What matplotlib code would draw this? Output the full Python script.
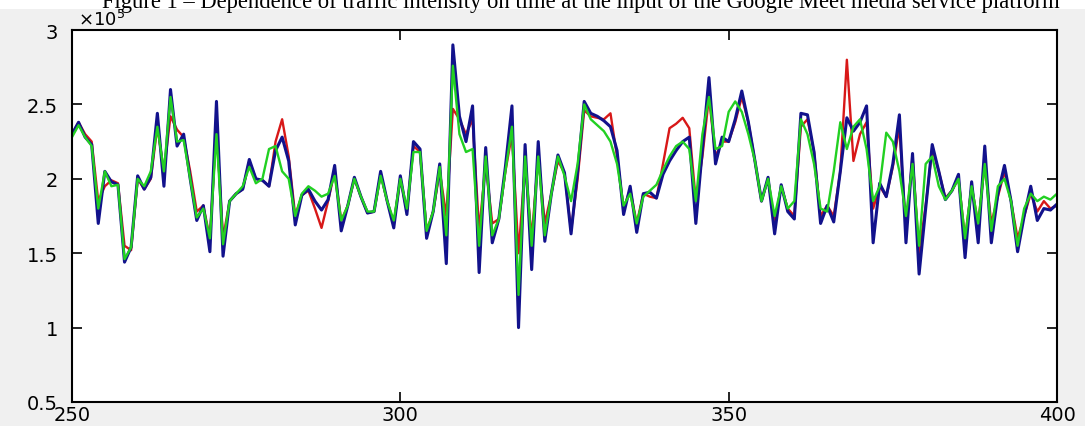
import numpy as np
import matplotlib.pyplot as plt
from matplotlib.patches import Rectangle

# tiempo (muestras) y series de intensidad de tráfico, en unidades de 1e5
t = np.arange(250, 401)

serie_azul = [
    2.30, 2.38, 2.28, 2.23, 1.70, 2.05, 1.98, 1.96, 1.44, 1.54,
    2.02, 1.93, 2.01, 2.44, 1.95, 2.60, 2.22, 2.30, 2.00, 1.72,
    1.82, 1.51, 2.52, 1.48, 1.85, 1.90, 1.93, 2.13, 2.00, 1.99,
    1.95, 2.19, 2.28, 2.12, 1.69, 1.89, 1.93, 1.85, 1.79, 1.86,
    2.09, 1.65, 1.82, 2.01, 1.88, 1.77, 1.78, 2.05, 1.85, 1.67,
    2.02, 1.76, 2.25, 2.20, 1.60, 1.78, 2.10, 1.43, 2.90, 2.42,
    2.25, 2.49, 1.37, 2.21, 1.57, 1.73, 2.08, 2.49, 1.00, 2.23,
    1.39, 2.25, 1.58, 1.90, 2.16, 2.04, 1.63, 2.05, 2.52, 2.44,
    2.42, 2.39, 2.35, 2.19, 1.76, 1.95, 1.64, 1.90, 1.91, 1.87,
    2.03, 2.12, 2.19, 2.25, 2.28, 1.70, 2.20, 2.68, 2.10, 2.28,
    2.25, 2.40, 2.59, 2.38, 2.12, 1.85, 2.01, 1.63, 1.96, 1.78,
    1.73, 2.44, 2.43, 2.18, 1.70, 1.82, 1.71, 2.05, 2.41, 2.32,
    2.38, 2.49, 1.57, 1.97, 1.88, 2.10, 2.43, 1.57, 2.17, 1.36,
    1.80, 2.23, 2.05, 1.86, 1.92, 2.03, 1.47, 1.98, 1.57, 2.22,
    1.57, 1.90, 2.09, 1.85, 1.51, 1.75, 1.95, 1.72, 1.80, 1.79,
    1.83,
]

serie_roja = [
    2.30, 2.38, 2.30, 2.25, 1.85, 1.95, 1.99, 1.97, 1.55, 1.52,
    2.00, 1.93, 2.00, 2.35, 2.05, 2.42, 2.33, 2.28, 2.05, 1.78,
    1.82, 1.60, 2.35, 1.60, 1.85, 1.90, 1.93, 2.12, 2.00, 1.99,
    1.95, 2.25, 2.40, 2.15, 1.75, 1.89, 1.92, 1.80, 1.67, 1.85,
    2.05, 1.72, 1.82, 2.00, 1.88, 1.77, 1.78, 2.03, 1.85, 1.70,
    2.00, 1.78, 2.22, 2.18, 1.65, 1.78, 2.05, 1.75, 2.47, 2.40,
    2.30, 2.40, 1.65, 2.10, 1.70, 1.73, 2.05, 2.30, 1.50, 2.10,
    1.60, 2.15, 1.70, 1.90, 2.12, 2.04, 1.65, 2.00, 2.46, 2.42,
    2.41, 2.40, 2.44, 2.15, 1.80, 1.93, 1.70, 1.90, 1.88, 1.87,
    2.10, 2.34, 2.37, 2.41, 2.34, 1.85, 2.15, 2.55, 2.15, 2.25,
    2.25, 2.38, 2.55, 2.38, 2.12, 1.85, 2.00, 1.70, 1.95, 1.80,
    1.75, 2.35, 2.40, 2.18, 1.75, 1.82, 1.75, 2.05, 2.80, 2.12,
    2.30, 2.38, 1.80, 1.95, 1.88, 2.08, 2.35, 1.65, 2.15, 1.50,
    1.82, 2.20, 2.05, 1.87, 1.92, 2.00, 1.60, 1.95, 1.70, 2.10,
    1.70, 1.88, 2.05, 1.85, 1.60, 1.75, 1.90, 1.78, 1.85, 1.80,
    1.82,
]

serie_verde = [
    2.28, 2.36, 2.28, 2.22, 1.80, 2.05, 1.95, 1.96, 1.46, 1.54,
    2.00, 1.95, 2.05, 2.35, 2.05, 2.55, 2.25, 2.26, 2.00, 1.74,
    1.80, 1.60, 2.30, 1.56, 1.85, 1.90, 1.95, 2.08, 1.97, 2.00,
    2.20, 2.22, 2.05, 2.00, 1.75, 1.90, 1.95, 1.92, 1.88, 1.90,
    2.02, 1.72, 1.82, 2.00, 1.88, 1.78, 1.78, 2.02, 1.85, 1.72,
    2.00, 1.80, 2.18, 2.18, 1.65, 1.78, 2.08, 1.62, 2.76, 2.30,
    2.18, 2.20, 1.55, 2.15, 1.62, 1.73, 2.05, 2.35, 1.22, 2.15,
    1.55, 2.15, 1.62, 1.90, 2.15, 2.02, 1.85, 2.10, 2.50, 2.40,
    2.36, 2.32, 2.25, 2.10, 1.82, 1.90, 1.70, 1.88, 1.92, 1.96,
    2.06, 2.15, 2.22, 2.25, 2.20, 1.85, 2.30, 2.55, 2.20, 2.22,
    2.45, 2.52, 2.45, 2.30, 2.12, 1.85, 2.00, 1.75, 1.95, 1.80,
    1.85, 2.40, 2.30, 2.10, 1.80, 1.78, 2.05, 2.38, 2.20, 2.35,
    2.40, 2.20, 1.85, 1.95, 2.31, 2.25, 2.05, 1.75, 2.10, 1.55,
    2.10, 2.15, 1.95, 1.86, 1.92, 2.00, 1.60, 1.95, 1.70, 2.10,
    1.65, 1.95, 2.00, 1.85, 1.55, 1.80, 1.90, 1.85, 1.88, 1.86,
    1.90,
]

titulo = ("Figure 1 \u2013 Dependence of traffic intensity on time at the input "
          "of the Google Meet media service platform")

fig = plt.figure(figsize=(10.85, 4.27), dpi=100, facecolor="#f0f0f0")
# franja blanca de la página arriba (el título queda cortado)
fig.patches.append(Rectangle((0, 1 - 10 / 427), 1, 10 / 427, transform=fig.transFigure,
                             facecolor="white", edgecolor="none", zorder=0))
fig.text(0.535, 1 - 8 / 427, titulo, ha="center", va="baseline",
         family="Liberation Serif", fontsize=16.3)

ax = fig.add_axes([72 / 1085, 1 - 403 / 427, (1057 - 72) / 1085, (403 - 31) / 427])

ax.plot(t, serie_roja, color="#d81818", lw=1.7)
ax.plot(t, serie_azul, color="#12128c", lw=2.2)
ax.plot(t, serie_verde, color="#22d022", lw=1.7)

ax.set_xlim(250, 400)
ax.set_ylim(0.5, 3)
ax.set_xticks([250, 300, 350, 400])
ax.set_yticks([0.5, 1, 1.5, 2, 2.5, 3])
ax.set_yticklabels(["0.5", "1", "1.5", "2", "2.5", "3"])
ax.tick_params(direction="in", length=7, width=1.2, top=True, right=True,
               labelsize=14)
ax.tick_params(axis="y", pad=10)
ax.tick_params(axis="x", pad=2)
for lab in ax.get_xticklabels() + ax.get_yticklabels():
    lab.set_family("DejaVu Sans")
for s in ax.spines.values():
    s.set_linewidth(1.5)

ax.text(0.006, 1.004, r"$\times10^{5}$", transform=ax.transAxes,
        ha="left", va="bottom", fontsize=13)

fig.savefig("out.png", dpi=100, facecolor=fig.get_facecolor())
